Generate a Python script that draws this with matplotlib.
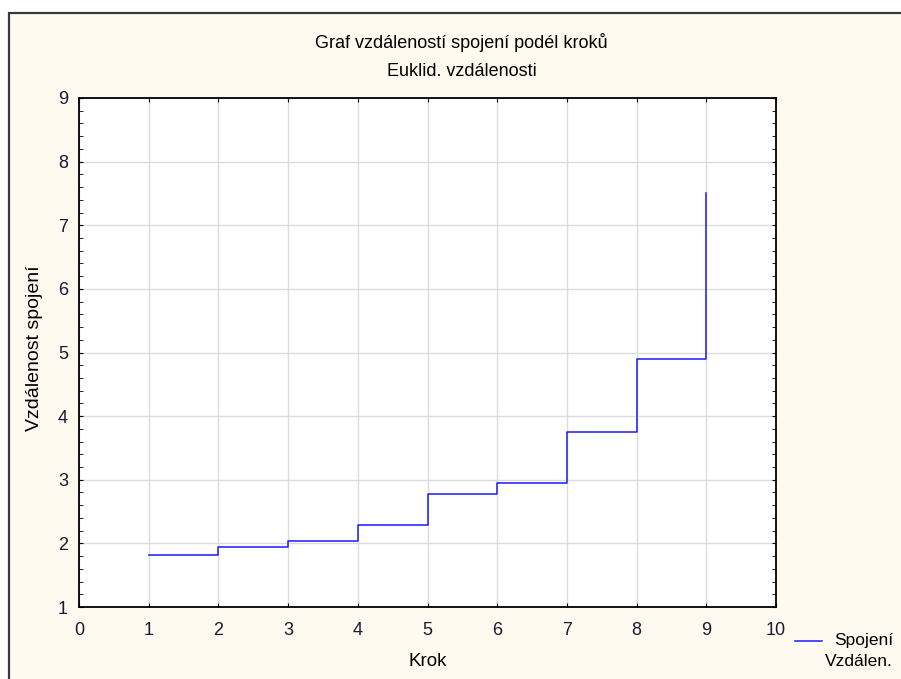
import matplotlib
matplotlib.use("Agg")
import matplotlib.pyplot as plt
import matplotlib.patches as patches
from matplotlib.lines import Line2D
from matplotlib.ticker import MultipleLocator

# data
kroky = [1, 2, 3, 4, 5, 6, 7, 8, 9]
vzdalenosti = [1.82, 1.95, 2.04, 2.29, 2.77, 2.945, 3.75, 4.89, 7.51]
x_ticks = [0, 1, 2, 3, 4, 5, 6, 7, 8, 9, 10]
y_ticks = [1, 2, 3, 4, 5, 6, 7, 8, 9]

W, H = 901, 679
BG = "#fffaf0"
plt.rcParams["font.family"] = ["Liberation Sans", "DejaVu Sans"]

fig = plt.figure(figsize=(W / 100, H / 100), dpi=100)
fig.patch.set_facecolor("white")

# cream frame, cut off at right and bottom like the screenshot
frame = patches.Rectangle((8.5 / W, -0.1), 1.2, (H - 12.5) / H + 0.1,
                          transform=fig.transFigure, facecolor=BG,
                          edgecolor="#3a3a3a", linewidth=1.6, zorder=-5)
fig.patches.append(frame)

ax = fig.add_axes([79 / W, (H - 607) / H, (776 - 79) / W, (607 - 98) / H])
ax.set_zorder(2)
ax.set_facecolor("white")

line, = ax.plot(kroky, vzdalenosti, drawstyle="steps-post", color="#1a1aff", linewidth=1.1)

ax.set_xlim(0, 10)
ax.set_ylim(1, 9)
ax.set_xticks(x_ticks)
ax.set_yticks(y_ticks)
ax.yaxis.set_minor_locator(MultipleLocator(0.2))
ax.grid(True, which="major", color="#dcdcdc", linewidth=1.0)
ax.set_axisbelow(True)

ax.tick_params(axis="both", which="both", direction="in", colors="black", labelsize=13)
ax.tick_params(axis="x", which="major", top=True, bottom=True, length=3, pad=11)
ax.tick_params(axis="y", which="major", left=True, right=True, length=3, pad=8)
ax.tick_params(axis="y", which="minor", left=True, right=True, length=3)
for lab in ax.get_xticklabels() + ax.get_yticklabels():
    lab.set_color("#1a1a2e")
for s in ax.spines.values():
    s.set_linewidth(1.3)
    s.set_color("black")

# titles and axis labels
fig.text(461 / W, 1 - 43 / H, "Graf vzdáleností spojení podél kroků", ha="center", va="center", fontsize=13)
fig.text(462 / W, 1 - 71 / H, "Euklid. vzdálenosti", ha="center", va="center", fontsize=13)
fig.text(35 / W, 1 - 348 / H, "Vzdálenost spojení", rotation=90, ha="center", va="center", fontsize=14)
fig.text(428 / W, 1 - 662 / H, "Krok", ha="center", va="center", fontsize=13.5)

# legend
fig.lines.append(Line2D([795 / W, 822 / W], [1 - 641 / H, 1 - 641 / H],
                        transform=fig.transFigure, color="#1a1aff", linewidth=1.1))
fig.text(893 / W, 1 - 641 / H, "Spojení", ha="right", va="center", fontsize=12.5)
fig.text(893 / W, 1 - 662 / H, "Vzdálen.", ha="right", va="center", fontsize=12.5)

fig.savefig("out.png", dpi=100, facecolor=fig.get_facecolor())
